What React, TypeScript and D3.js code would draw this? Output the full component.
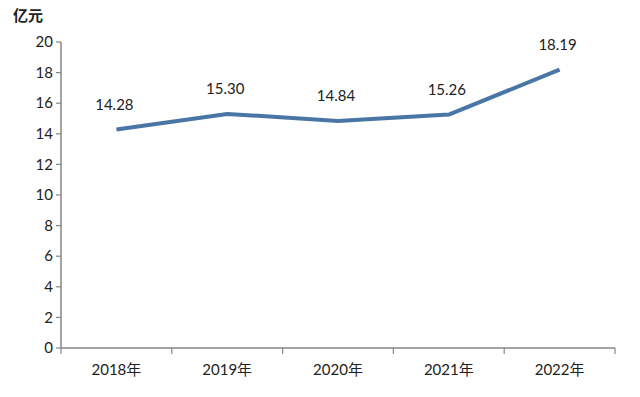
import { useRef, useEffect } from "react";
import * as d3 from "d3";

const years = ["2018年", "2019年", "2020年", "2021年", "2022年"];
const values = [14.28, 15.3, 14.84, 15.26, 18.19];
const yTicks = [0, 2, 4, 6, 8, 10, 12, 14, 16, 18, 20];
const unitLabel = "亿元";

const W = 640;
const H = 397;
const FONT = "Lato, 'Open Sans', 'Noto Sans CJK SC', sans-serif";

export default function App() {
  const svgRef = useRef<SVGSVGElement>(null);

  useEffect(() => {
    if (!svgRef.current) return;
    const svg = d3.select(svgRef.current);
    svg.selectAll("*").remove();

    const left = 61, right = 615, top = 42, bottom = 348;
    const x = d3.scaleBand<string>().domain(years).range([left, right]);
    const y = d3.scaleLinear().domain([0, 20]).range([bottom, top]);

    svg.append("rect").attr("width", W).attr("height", H).attr("fill", "#fff");

    const axisColor = "#868686";

    // y axis
    svg.append("line")
      .attr("x1", left).attr("x2", left)
      .attr("y1", y(20)).attr("y2", bottom)
      .attr("stroke", axisColor).attr("stroke-width", 1.5);
    yTicks.forEach((t) => {
      svg.append("line")
        .attr("x1", left - 5).attr("x2", left)
        .attr("y1", y(t)).attr("y2", y(t))
        .attr("stroke", axisColor).attr("stroke-width", 1.2);
      svg.append("text")
        .attr("x", left - 8).attr("y", y(t))
        .attr("dy", "0.35em")
        .attr("text-anchor", "end")
        .attr("font-family", FONT).attr("font-size", 15)
        .attr("fill", "#222")
        .text(t);
    });

    // x axis
    svg.append("line")
      .attr("x1", left).attr("x2", right)
      .attr("y1", bottom).attr("y2", bottom)
      .attr("stroke", axisColor).attr("stroke-width", 1.5);
    const edges = [...years.map((d) => x(d) ?? 0), right];
    edges.forEach((e) => {
      svg.append("line")
        .attr("x1", e).attr("x2", e)
        .attr("y1", bottom).attr("y2", bottom + 6)
        .attr("stroke", axisColor).attr("stroke-width", 1.2);
    });
    years.forEach((d) => {
      svg.append("text")
        .attr("x", (x(d) ?? 0) + x.bandwidth() / 2)
        .attr("y", 370).attr("dy", "0.35em")
        .attr("text-anchor", "middle")
        .attr("font-family", FONT).attr("font-size", 15)
        .attr("fill", "#222")
        .text(d);
    });

    // unit label
    svg.append("text")
      .attr("x", 28).attr("y", 16).attr("dy", "0.35em")
      .attr("text-anchor", "middle")
      .attr("font-family", FONT).attr("font-size", 15)
      .attr("font-weight", "bold")
      .attr("fill", "#222")
      .text(unitLabel);

    const pts = years.map((d, i) => [(x(d) ?? 0) + x.bandwidth() / 2, y(values[i])] as [number, number]);
    svg.append("path")
      .attr("d", d3.line()(pts))
      .attr("fill", "none")
      .attr("stroke", "#4a76a6")
      .attr("stroke-width", 4)
      .attr("stroke-linejoin", "round");

    pts.forEach((p, i) => {
      svg.append("text")
        .attr("x", p[0] - 2).attr("y", p[1] - 25).attr("dy", "0.35em")
        .attr("text-anchor", "middle")
        .attr("font-family", FONT).attr("font-size", 15)
        .attr("fill", "#222")
        .text(values[i].toFixed(2));
    });
  }, []);

  return (
    <svg
      ref={svgRef}
      width={W}
      height={H}
      style={{ position: "absolute", left: 0, top: 0 }}
    />
  );
}
